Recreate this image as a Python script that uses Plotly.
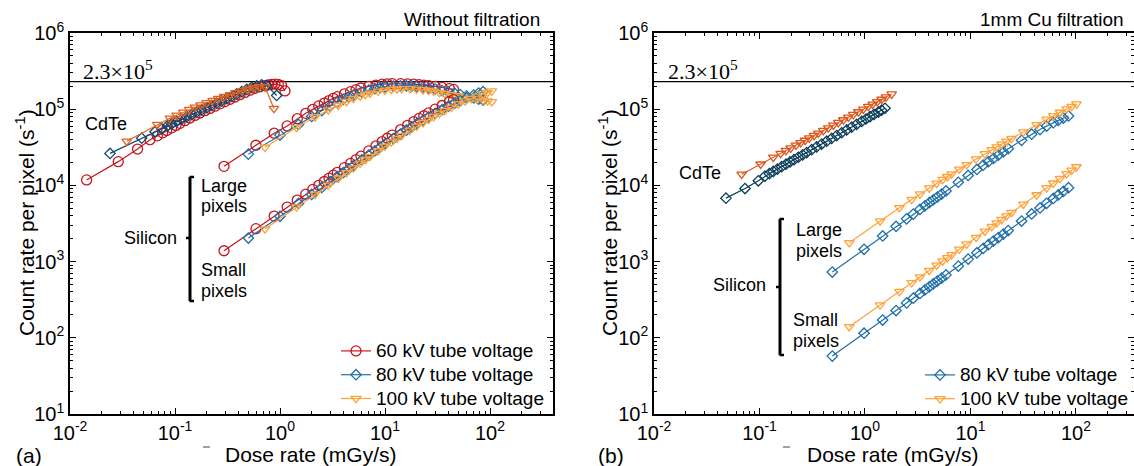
import plotly.graph_objects as go

W, H = 1134, 466
FONT = "Liberation Sans, Arial, Helvetica, sans-serif"
SERIF = "Liberation Serif, Times New Roman, serif"

# ---------------- data: (a) without filtration ----------------
cdte60_x = [0.0144, 0.0288, 0.044, 0.0578, 0.0679, 0.0763, 0.0833, 0.0929, 0.1022, 0.1116, 0.1245,
            0.139, 0.1549, 0.1729, 0.1931, 0.2154, 0.2404, 0.2683, 0.2994, 0.3341, 0.3728, 0.4161,
            0.4642, 0.5181, 0.5781, 0.6452, 0.7199, 0.7742, 0.8328, 0.8956, 0.9633, 1.036, 1.115]
cdte60_y = [11800, 20500, 30000, 39800, 44700, 49000, 52500, 56900, 61100, 65300, 70800, 76700,
            82800, 89100, 95500, 102300, 109600, 117500, 125900, 134900, 144500, 154900, 166000,
            177800, 188400, 197200, 204200, 208900, 212300, 213800, 211300, 204200, 173800]

cdte80_x = [0.02405, 0.04819, 0.06457, 0.07468, 0.08454, 0.09293, 0.1037, 0.1157, 0.1292, 0.1442,
            0.1608, 0.1795, 0.2003, 0.2236, 0.2495, 0.2784, 0.3107, 0.3467, 0.3869, 0.4318, 0.4819,
            0.5377, 0.6, 0.6695, 0.7471, 0.9293]
cdte80_y = [26300, 41700, 50700, 55600, 60300, 64100, 68900, 73960, 79430, 85110, 91200, 97720,
            104700, 112200, 120200, 128800, 138000, 147900, 158500, 169800, 182000, 192800, 201800,
            208900, 204200, 151400]

cdte100_x = [0.0347, 0.0679, 0.0895, 0.1037, 0.12, 0.1369, 0.1549, 0.1755, 0.2003, 0.2286, 0.2589,
             0.2931, 0.3341, 0.3784, 0.4318, 0.4887, 0.5575, 0.631, 0.7199, 0.8765]
cdte100_y = [38000, 63100, 75900, 83200, 91200, 98850, 105900, 113500, 121600, 130300, 138000,
             146200, 154900, 164100, 173800, 182000, 190500, 197200, 195000, 102300]

si60_x = [0.293, 0.59, 0.88, 1.17, 1.46, 1.76, 2.05, 2.34, 2.64, 2.93, 3.22, 3.52, 4.1, 4.7, 5.3,
          5.9, 7.0, 8.2, 9.4, 10.5, 11.7, 14.1, 16.4, 18.8, 21.1, 23.4, 26, 30, 35, 41, 45]
si60_large_y = [17800, 33650, 48400, 60300, 75000, 88300, 99500, 110400, 120500, 129700, 138700,
                146200, 158500, 169800, 180300, 189700, 199500, 207500, 212800, 215300, 216300,
                216300, 214800, 212800, 209900, 207000, 204200, 199500, 192800, 186200, 182000]
si60_small_y = [1387, 2704, 3955, 5190, 6412, 7674, 8851, 10020, 11250, 12450, 13610, 14860, 17100,
                19450, 21780, 24150, 28380, 33040, 37580, 41590, 45710, 53950, 61520, 68870, 75680,
                82030, 89330, 100000, 111900, 125300, 133400]

si80_x = [0.5, 1.0, 1.5, 2.0, 2.5, 3.0, 3.5, 4.0, 4.5, 5.0, 6.0, 7.0, 8.0, 9.0, 10, 12, 14, 16, 18,
          20, 23, 26, 30, 35, 40, 46, 52, 60, 70, 78, 86]
si80_large_y = [25700, 45700, 63100, 80400, 95500, 109600, 123000, 134900, 144500, 153100, 167900,
                177800, 186200, 191900, 195900, 200400, 201800, 201800, 200400, 198200, 194100,
                189700, 183700, 175800, 169000, 162200, 155600, 148600, 141300, 135800, 131200]
si80_small_y = [2037, 3936, 5794, 7603, 9397, 11190, 13000, 14720, 16440, 18150, 21580, 25000, 28380,
                31770, 35080, 41210, 47210, 52970, 58480, 63970, 71450, 78700, 88100, 98600, 108600,
                119100, 128800, 140300, 153100, 162600, 169800]

si100_x = [0.72, 1.44, 2.16, 2.88, 3.6, 4.3, 5.0, 5.8, 6.5, 7.2, 8.6, 10, 11.5, 13, 14.4, 17.3, 20,
           23, 26, 29, 33, 37, 43, 50, 58, 66, 75, 86, 95, 104]
si100_large_y = [31600, 57500, 79400, 97700, 112200, 125900, 138000, 147900, 156700, 162200, 171800,
                 177800, 182000, 184100, 185400, 185400, 182800, 179500, 175800, 171800, 166000,
                 161100, 154900, 149600, 144500, 140000, 135500, 131200, 128200, 125300]
si100_small_y = [2685, 5200, 7638, 10050, 12450, 14690, 16940, 19500, 21780, 23990, 28380, 32730,
                 37070, 41300, 45190, 52840, 59700, 66680, 73450, 79980, 88310, 95940, 106200,
                 117200, 128200, 138400, 148300, 158500, 166000, 173000]

# ---------------- data: (b) 1 mm Cu filtration ----------------
cu_cdte80_x = [0.0481, 0.0729, 0.0975, 0.1127, 0.124, 0.1352, 0.1476, 0.1622, 0.1783, 0.1946,
               0.2123, 0.2334, 0.2566, 0.2801, 0.3122, 0.3482, 0.3884, 0.4332, 0.4831, 0.5389,
               0.601, 0.6702, 0.7475, 0.8337, 0.9298, 1.022, 1.115, 1.217, 1.338, 1.439, 1.548]
cu_cdte80_y = [6800, 9100, 11500, 13240, 14260, 15270, 16350, 17610, 18960, 20300, 21730, 23410,
               25210, 27000, 29400, 32020, 34880, 37980, 41390, 45080, 49090, 53460, 58230, 63420,
               69080, 74370, 79650, 85290, 91860, 97230, 102900]

cu_cdte100_x = [0.0678, 0.1026, 0.1352, 0.1587, 0.1783, 0.1974, 0.2218, 0.2455, 0.27, 0.2968,
                0.3286, 0.3612, 0.4028, 0.4492, 0.5009, 0.5587, 0.6231, 0.695, 0.7752, 0.8647,
                0.9643, 1.0755, 1.182, 1.309, 1.439, 1.581, 1.79]
cu_cdte100_y = [14000, 19030, 23350, 26290, 28660, 30900, 33690, 36320, 38960, 41770, 45050, 48320,
                52390, 56800, 61570, 66730, 72370, 78440, 85050, 92210, 99980, 108400, 116300,
                125400, 134500, 144200, 158000]

cu_si80_x = [0.49, 0.98, 1.47, 1.97, 2.48, 2.87, 3.32, 3.7, 4.07, 4.44, 4.85, 5.33, 5.86, 7.67, 9.5,
             11.5, 13.2, 14.8, 16.5, 18.4, 20.5, 22.8, 30.5, 38, 45.6, 52.7, 61, 68, 76, 85]
cu_si80_large_y = [730, 1450, 2170, 2900, 3640, 4200, 4850, 5400, 5930, 6450, 7030, 7700, 8450,
                   11000, 13500, 16200, 18400, 20500, 22600, 25000, 27500, 30300, 39000, 47000,
                   54000, 60000, 66500, 71500, 76500, 81500]
cu_si80_small_y = [57.5, 115, 171, 228, 287, 331, 382, 425, 467, 509, 555, 609, 669, 873, 1078, 1302,
                   1491, 1669, 1858, 2068, 2300, 2553, 3402, 4224, 5055, 5830, 6735, 7495, 8360, 9330]

cu_si100_x = [0.71, 1.39, 2.12, 2.77, 3.32, 4.07, 4.78, 5.45, 6.03, 6.63, 7.83, 9.2, 11.3, 13.7,
              15.9, 17.7, 19.7, 22, 24.5, 31.7, 42.4, 52.7, 61, 70.5, 81.5, 91, 101]
cu_si100_large_y = [1770, 3420, 5090, 6520, 7690, 9220, 10640, 11930, 13030, 14130, 16300, 18670,
                    22180, 25970, 29300, 31920, 34770, 37950, 41300, 50330, 62660, 73600, 81800,
                    90800, 100600, 108600, 116800]
cu_si100_small_y = [140, 269, 406, 527, 629, 766, 896, 1019, 1124, 1232, 1450, 1697, 2073, 2501,
                    2891, 3210, 3562, 3967, 4406, 5662, 7514, 9290, 10710, 12340, 14210, 15810, 17500]

threshold = 2.3e5
x_ticks = [0.01, 0.1, 1, 10, 100]
x_tick_text = ["10<sup>-2</sup>", "10<sup>-1</sup>", "10<sup>0</sup>", "10<sup>1</sup>", "10<sup>2</sup>"]
y_ticks = [10, 100, 1000, 10000, 100000, 1000000]
y_tick_text = ["10<sup>1</sup>", "10<sup>2</sup>", "10<sup>3</sup>", "10<sup>4</sup>",
               "10<sup>5</sup>", "10<sup>6</sup>"]
legend_a = ["60 kV tube voltage", "80 kV tube voltage", "100 kV tube voltage"]
legend_b = ["80 kV tube voltage", "100 kV tube voltage"]

# colours
RED = "#c3161d"
NAVY = "#0c4a6e"
DKORANGE = "#e2621c"
BLUE = "#1f6fa7"
ORANGE = "#ffa23a"
NAVY_B = "#0b3c58"
DKORANGE_B = "#dc571d"

X_RANGE_A = [-2, 2.6]
X_RANGE_B = [-2, 2.55]

SYM_SIZE = {"circle-open": 10, "diamond-open": 8, "triangle-down-open": 8.5}


def xp(px):
    return px / W


def yp(py):
    return 1 - py / H


def big(s):
    return '<span style="font-size:19px">' + s + '</span>'


fig = go.Figure()


def add(x, y, color, symbol, xa, ya, name=None, legend="legend"):
    fig.add_trace(go.Scatter(
        x=x, y=y, mode="lines+markers", xaxis=xa, yaxis=ya,
        line=dict(color=color, width=1.2),
        marker=dict(symbol=symbol, size=SYM_SIZE[symbol], color=color,
                    line=dict(color=color, width=1.3)),
        name=big(name) if name else "", showlegend=name is not None, legend=legend,
    ))


# threshold lines
fig.add_trace(go.Scatter(x=[10 ** X_RANGE_A[0], 10 ** X_RANGE_A[1]], y=[threshold, threshold],
                         mode="lines", line=dict(color="black", width=1.2), xaxis="x", yaxis="y",
                         showlegend=False))
fig.add_trace(go.Scatter(x=[10 ** X_RANGE_B[0], 10 ** X_RANGE_B[1]], y=[threshold, threshold],
                         mode="lines", line=dict(color="black", width=1.2), xaxis="x2", yaxis="y2",
                         showlegend=False))

# panel (a)
add(cdte60_x, cdte60_y, RED, "circle-open", "x", "y")
add(cdte80_x, cdte80_y, NAVY, "diamond-open", "x", "y")
add(cdte100_x, cdte100_y, DKORANGE, "triangle-down-open", "x", "y")
add(si60_x, si60_large_y, RED, "circle-open", "x", "y")
add(si80_x, si80_large_y, BLUE, "diamond-open", "x", "y")
add(si100_x, si100_large_y, ORANGE, "triangle-down-open", "x", "y")
add(si60_x, si60_small_y, RED, "circle-open", "x", "y", name=legend_a[0], legend="legend")
add(si80_x, si80_small_y, BLUE, "diamond-open", "x", "y", name=legend_a[1], legend="legend")
add(si100_x, si100_small_y, ORANGE, "triangle-down-open", "x", "y", name=legend_a[2], legend="legend")

# panel (b)
add(cu_cdte80_x, cu_cdte80_y, NAVY_B, "diamond-open", "x2", "y2")
add(cu_cdte100_x, cu_cdte100_y, DKORANGE_B, "triangle-down-open", "x2", "y2")
add(cu_si80_x, cu_si80_large_y, BLUE, "diamond-open", "x2", "y2")
add(cu_si100_x, cu_si100_large_y, ORANGE, "triangle-down-open", "x2", "y2")
add(cu_si80_x, cu_si80_small_y, BLUE, "diamond-open", "x2", "y2", name=legend_b[0], legend="legend2")
add(cu_si100_x, cu_si100_small_y, ORANGE, "triangle-down-open", "x2", "y2", name=legend_b[1], legend="legend2")

minor_x = [m * 10 ** e for e in range(-2, 3) for m in range(2, 10)]
minor_y = [m * 10 ** e for e in range(1, 6) for m in range(2, 10)]


def axis(kind, rng, dom, anchor):
    vals, txt, mn = (x_ticks, x_tick_text, minor_x) if kind == "x" else (y_ticks, y_tick_text, minor_y)
    return dict(type="log", range=rng, domain=dom, anchor=anchor, automargin=False,
                showline=True, linecolor="black",
                linewidth=1.5, mirror="allticks", ticks="inside", ticklen=6, tickwidth=1.2,
                tickcolor="black", tickmode="array", tickvals=vals, ticktext=txt,
                tickfont=dict(size=20, family=FONT, color="black"), showgrid=False, zeroline=False,
                minor=dict(ticks="inside", ticklen=3, tickwidth=1, tickcolor="black",
                           tickmode="array", tickvals=mn, showgrid=False))


ydom = [yp(414), yp(33)]
leg_common = dict(font=dict(size=16, family=FONT, color="black"), bgcolor="rgba(0,0,0,0)",
                  tracegroupgap=0, itemwidth=30, traceorder="normal", borderwidth=0)
fig.update_layout(
    template="none",
    width=W, height=H, margin=dict(l=0, r=0, t=0, b=0, pad=0, autoexpand=False),
    paper_bgcolor="white", plot_bgcolor="white",
    font=dict(family=FONT, color="black"),
    xaxis=axis("x", X_RANGE_A, [xp(70), xp(553)], "y"),
    yaxis=axis("y", [1, 6], ydom, "x"),
    xaxis2=axis("x", X_RANGE_B, [xp(654), 1.0], "y2"),
    yaxis2=axis("y", [1, 6], ydom, "x2"),
    legend=dict(x=xp(549), xanchor="right", y=yp(416), yanchor="bottom", **leg_common),
    legend2=dict(x=xp(1133), xanchor="right", y=yp(416), yanchor="bottom", **leg_common),
)


def note(text, px, py, xanchor="left", size=18, family=FONT, angle=0):
    fig.add_annotation(text=text, x=xp(px), y=yp(py), xref="paper", yref="paper",
                       xanchor=xanchor, yanchor="middle", showarrow=False, textangle=angle,
                       font=dict(size=size, family=family, color="black"))


# titles & labels
note("Without filtration", 542, 20, "right", 19)
note("1mm Cu filtration", 1126, 20, "right", 19)
note("2.3×10<sup>5</sup>", 81, 70, "left", 22, SERIF)
note("2.3×10<sup>5</sup>", 666, 70, "left", 22, SERIF)
note("Dose rate (mGy/s)", 311, 454, "center", 21)
note("Dose rate (mGy/s)", 893, 454, "center", 21)
note("Count rate per pixel (s<sup>-1</sup>)", 25, 223, "center", 21, angle=-90)
note("Count rate per pixel (s<sup>-1</sup>)", 608, 223, "center", 21, angle=-90)
note("(a)", 14, 455, "left", 21)
note("(b)", 596, 455, "left", 21)

note("CdTe", 83, 124, "left")
note("Large", 199, 186, "left")
note("pixels", 199, 206, "left")
note("Silicon", 179, 238, "right")
note("Small", 199, 270, "left")
note("pixels", 199, 291, "left")

note("CdTe", 677, 173, "left")
note("Large", 794, 230, "left")
note("pixels", 794, 251, "left")
note("Silicon", 768, 285, "right")
note("Small", 791, 320, "left")
note("pixels", 791, 341, "left")


def seg(x0, y0, x1, y1, w=3, color="black"):
    fig.add_shape(type="line", xref="paper", yref="paper", x0=xp(x0), y0=yp(y0), x1=xp(x1), y1=yp(y1),
                  line=dict(color=color, width=w))


# brackets
for bx, top, mid, bot in [(190, 177, 238, 301), (780, 219, 287, 355)]:
    seg(bx, top, bx, bot)
    seg(bx - 0.5, top, bx + 4, top, 2.5)
    seg(bx - 0.5, bot, bx + 4, bot, 2.5)
    seg(bx - 4, mid, bx, mid, 2.5)

# small stray dashes present in the original
seg(203, 447, 210, 447, 1, "#444444")
seg(783, 447, 790, 447, 1, "#444444")

fig.write_html("out.html")
